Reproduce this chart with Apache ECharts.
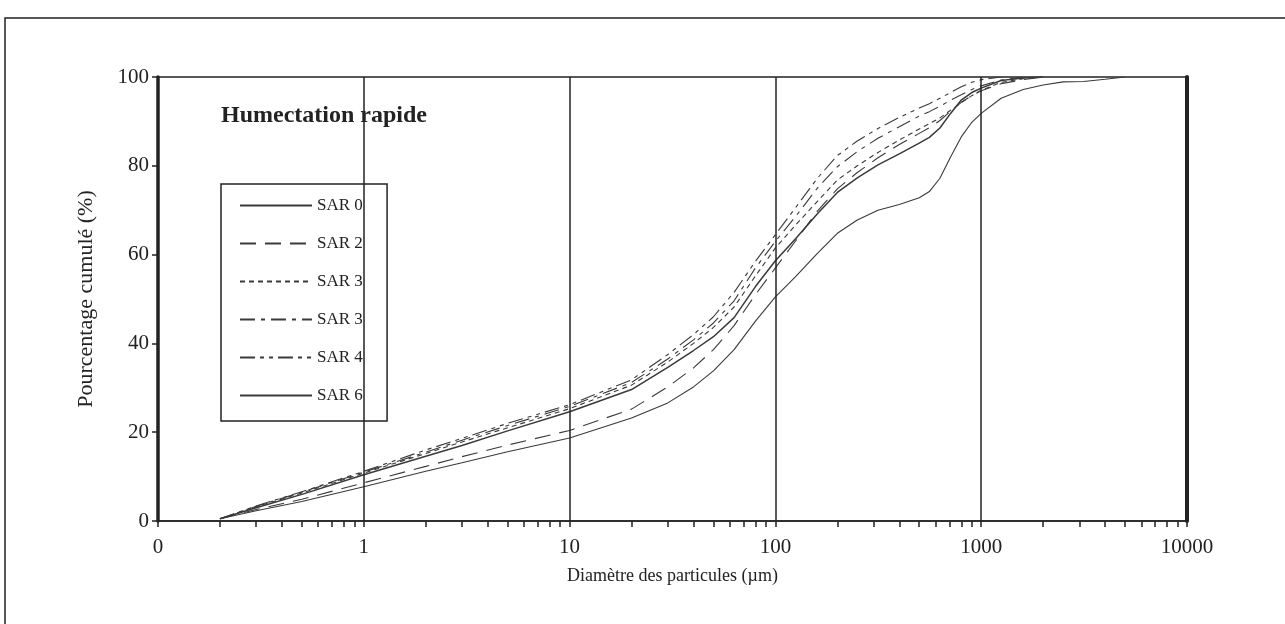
<!DOCTYPE html>
<html>
<head>
<meta charset="utf-8">
<script src="https://cdn.jsdelivr.net/npm/echarts@6/dist/echarts.min.js"></script>
<style>
  html, body { margin: 0; padding: 0; background: #fff; }
  #chart { width: 1285px; height: 624px; }
</style>
</head>
<body>
<div id="chart"></div>
<script>
// diametres (µm) communs a toutes les courbes
var sizes = [0.2, 0.3, 0.5, 1, 2, 3, 5, 10, 20, 30, 40, 50, 63, 80, 100, 125, 160, 200, 250, 315, 400, 500, 560, 630, 710, 800, 900, 1000, 1250, 1600, 2000, 2500, 3150, 4000, 5000];

// pourcentage cumule
var sar0 = [0.5, 2.3, 4.4, 7.7, 11.2, 13.1, 15.6, 18.7, 23.2, 26.6, 30.2, 33.8, 38.6, 45.0, 50.5, 55.0, 60.3, 64.8, 67.8, 70.0, 71.3, 72.8, 74.2, 77.2, 82.0, 86.5, 89.8, 91.8, 95.2, 97.2, 98.2, 98.9, 99.0, 99.5, 100];
var sar2 = [0.5, 2.6, 4.9, 8.6, 12.3, 14.5, 17.1, 20.4, 25.2, 30.2, 34.5, 38.6, 44.0, 51.0, 57.0, 63.0, 69.8, 74.8, 78.5, 81.8, 84.8, 87.3, 88.6, 90.2, 92.3, 94.3, 95.8, 96.9, 98.5, 99.4, 100, null, null, null, null];
var sar3a = [0.5, 3.2, 6.3, 10.8, 15.2, 17.8, 21.0, 25.3, 30.6, 35.8, 40.0, 43.6, 48.2, 55.2, 61.5, 66.6, 72.0, 76.8, 80.0, 83.0, 85.8, 88.3, 89.5, 90.8, 92.5, 94.2, 95.8, 97.0, 98.8, 99.6, 100, null, null, null, null];
var sar3b = [0.5, 3.3, 6.5, 11.0, 15.5, 18.2, 21.5, 25.8, 31.2, 36.5, 40.8, 44.6, 49.6, 57.0, 63.0, 68.5, 75.0, 79.8, 83.2, 86.2, 88.8, 91.2, 92.2, 93.4, 94.8, 96.0, 97.2, 98.0, 99.3, 100, null, null, null, null, null];
var sar4 = [0.5, 3.4, 6.6, 11.2, 16.0, 18.6, 22.0, 26.2, 31.8, 37.5, 42.0, 46.0, 51.5, 58.5, 64.5, 70.5, 77.2, 82.3, 85.6, 88.4, 90.9, 93.0, 94.0, 95.2, 96.5, 97.8, 98.8, 99.4, 100, null, null, null, null, null, null];
var sar6 = [0.5, 3.0, 6.0, 10.4, 14.6, 17.0, 20.3, 24.6, 29.6, 34.6, 38.4, 41.5, 45.8, 52.8, 58.6, 63.5, 69.2, 74.0, 77.3, 80.2, 82.7, 85.1, 86.4, 88.5, 91.8, 94.8, 96.5, 97.5, 99.2, 99.8, 100, null, null, null, null];

var names = ['SAR 0', 'SAR 2', 'SAR 3', 'SAR 3 ', 'SAR 4', 'SAR 6'];
var decades = [1, 10, 100, 1000];

var FONT = 'Liberation Serif';
var INK = '#222';
var LINE = '#3a3a3a';

// graduations mineures de l'axe log (1..9 x 10^n)
var minorTicks = [];
for (var p = -1; p <= 3; p++) {
  for (var m = 1; m <= 9; m++) {
    minorTicks.push(+(m * Math.pow(10, p)).toPrecision(3));
  }
}
minorTicks.push(10000);

function pairs(vals) {
  return sizes.map(function (d, i) { return [d, vals[i]]; });
}

function mkSeries(name, vals, dash, width, extra) {
  var s = {
    name: name,
    type: 'line',
    data: pairs(vals),
    showSymbol: false,
    symbol: 'none',
    connectNulls: false,
    lineStyle: { color: LINE, width: width, type: dash },
    itemStyle: { color: LINE }
  };
  if (extra) for (var k in extra) s[k] = extra[k];
  return s;
}

var chart = echarts.init(document.getElementById('chart'), null, { renderer: 'canvas' });

var option = {
  animation: false,
  backgroundColor: '#fff',
  textStyle: { fontFamily: FONT, color: INK },
  title: {
    text: 'Humectation rapide',
    left: 216,
    top: 99,
    textStyle: { fontFamily: FONT, fontWeight: 'bold', fontSize: 24, color: INK }
  },
  graphic: [{
    type: 'rect',
    shape: { x: 5, y: 18, width: 1300, height: 700 },
    style: { fill: 'none', stroke: INK, lineWidth: 1.5 },
    z: -1
  }],
  legend: {
    orient: 'vertical',
    left: 221,
    top: 184,
    padding: [13, 20, 17, 18],
    itemGap: 21,
    itemWidth: 72,
    itemHeight: 14,
    backgroundColor: '#fff',
    borderColor: INK,
    borderWidth: 1.5,
    borderRadius: 0,
    selectedMode: false,
    itemStyle: { opacity: 0 },
    textStyle: { fontFamily: FONT, fontSize: 17, color: INK },
    data: names
  },
  grid: {
    left: 158,
    right: 98,
    top: 77,
    bottom: 103,
    show: true,
    borderColor: INK,
    borderWidth: 1.5,
    backgroundColor: 'transparent'
  },
  xAxis: {
    type: 'log',
    logBase: 10,
    min: 0.1,
    max: 10000,
    name: 'Diamètre des particules (µm)',
    nameLocation: 'middle',
    nameGap: 46,
    nameTextStyle: { fontFamily: FONT, fontSize: 18, color: INK },
    axisLine: { show: true, lineStyle: { color: INK, width: 1.5 } },
    axisTick: {
      show: true,
      inside: false,
      length: 6,
      customValues: minorTicks,
      lineStyle: { color: INK, width: 1.5 }
    },
    axisLabel: {
      fontFamily: FONT,
      fontSize: 21,
      color: INK,
      margin: 16,
      formatter: function (v) { return v < 1 ? '0' : String(Math.round(v)); }
    },
    splitLine: { show: false }
  },
  yAxis: [{
    type: 'value',
    min: 0,
    max: 100,
    interval: 20,
    name: 'Pourcentage cumulé (%)',
    nameLocation: 'middle',
    nameGap: 61,
    nameRotate: 90,
    nameTextStyle: { fontFamily: FONT, fontSize: 22, color: INK },
    axisLine: { show: true, lineStyle: { color: INK, width: 3.5 } },
    axisTick: { show: true, length: 6, lineStyle: { color: INK, width: 1.5 } },
    axisLabel: { fontFamily: FONT, fontSize: 21, color: INK, margin: 9 },
    splitLine: { show: false }
  }, {
    type: 'value',
    min: 0,
    max: 100,
    position: 'right',
    axisLine: { show: true, lineStyle: { color: INK, width: 4 } },
    axisTick: { show: false },
    axisLabel: { show: false },
    splitLine: { show: false }
  }],
  series: [
    mkSeries(names[0], sar0, 'solid', 1.1, {
      markLine: {
        silent: true,
        symbol: 'none',
        label: { show: false },
        lineStyle: { color: INK, width: 1.5, type: 'solid' },
        data: decades.map(function (d) { return { xAxis: d }; })
      }
    }),
    mkSeries(names[1], sar2, [16, 9], 1.1),
    mkSeries(names[2], sar3a, [5, 4], 1.1),
    mkSeries(names[3], sar3b, [15, 6, 4, 6], 1.1),
    mkSeries(names[4], sar4, [15, 5, 4, 5, 4, 5], 1.1),
    mkSeries(names[5], sar6, 'solid', 1.5)
  ]
};

chart.setOption(option);
</script>
</body>
</html>
